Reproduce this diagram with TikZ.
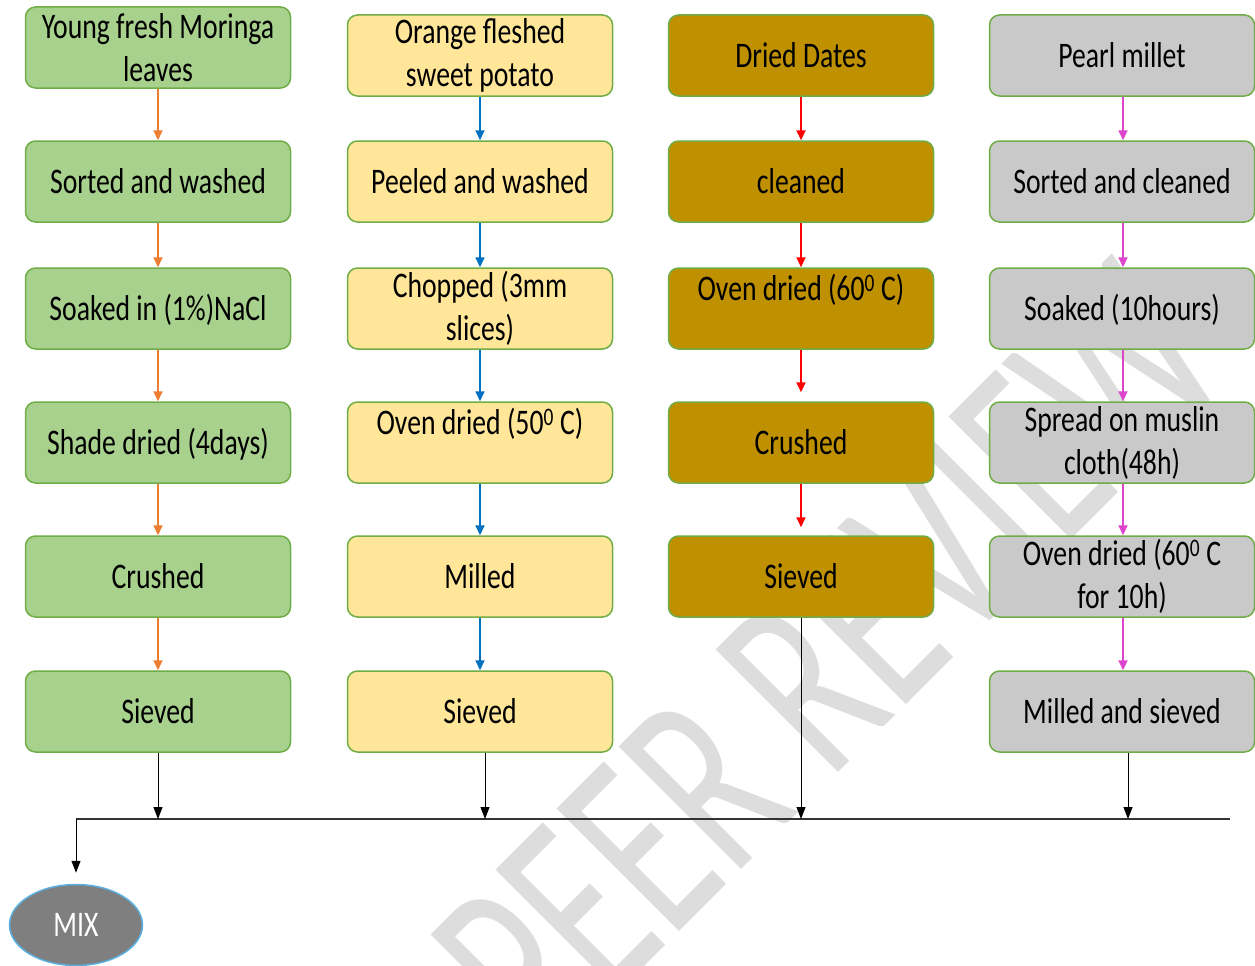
\documentclass[tikz,border=0pt]{standalone}
\usepackage{fontspec}
\setmainfont{Carlito}[FakeStretch=0.77]
\newfontfamily\wmfont{Carlito}[FakeStretch=0.66]
\usetikzlibrary{arrows.meta,shapes.geometric}
\definecolor{bord}{HTML}{70AD47}
\definecolor{gfill}{HTML}{A9D18E}
\definecolor{yfill}{HTML}{FFE699}
\definecolor{dfill}{HTML}{BF9000}
\definecolor{pfill}{HTML}{C9C9C9}
\definecolor{mixf}{HTML}{7F7F7F}
\definecolor{mixb}{HTML}{5BB0E0}
\definecolor{aorange}{HTML}{ED7D31}
\definecolor{ablue}{HTML}{0070C0}
\definecolor{ared}{HTML}{FF0000}
\definecolor{amag}{HTML}{DD44CC}
\definecolor{wm}{RGB}{221,221,221}
\newcommand\boxfont{\fontsize{36}{43}\selectfont}
\tikzset{
  box/.style={draw=bord, line width=1.5pt, rounded corners=10pt,
    minimum width=265pt, minimum height=81pt, inner sep=0pt,
    align=center, font=\boxfont},
  one/.style={text height=25pt, text depth=1.8pt},
  gbox/.style={box, fill=gfill},
  ybox/.style={box, fill=yfill},
  dbox/.style={box, fill=dfill},
  pbox/.style={box, fill=pfill},
  tipc/.style={-{Triangle[length=10pt,width=9pt]}},
  a1/.style={draw=aorange, line width=2pt, tipc},
  a2/.style={draw=ablue, line width=2pt, tipc},
  a3/.style={draw=ared, line width=2pt, tipc},
  a4/.style={draw=amag, line width=2pt, tipc},
  blk/.style={draw=black, line width=1pt, -{Triangle[length=12pt,width=9pt]}},
}
\begin{document}
\begin{tikzpicture}[x=1pt,y=-1pt]
\useasboundingbox (0,0) rectangle (1255,966);
\clip (0,0) rectangle (1255,966);
% watermark
\node[anchor=base west, rotate=45, text=wm, inner sep=0pt,
      font=\wmfont\fontsize{270}{270}\selectfont] (wmark) at (544,1067) {PEER REVIEW};

% bus
\coordinate (busL) at (76,819);
\coordinate (busR) at (1230,819);

% column 1
\node[gbox] (c1r1) at (158,47.5) {Young fresh Moringa\\leaves};
\node[gbox,one] (c1r2) at (158,181.5) {Sorted and washed};
\node[gbox,one] (c1r3) at (158,308.5) {Soaked in (1\%)NaCl};
\node[gbox,one] (c1r4) at (158,442.5) {Shade dried (4days)};
\node[gbox,one] (c1r5) at (158,576.5) {Crushed};
\node[gbox,one] (c1r6) at (158,711.5) {Sieved};

% column 2
\node[ybox] (c2r1) at (480,55.5) {Orange fleshed\\sweet potato};
\node[ybox,one] (c2r2) at (480,181.5) {Peeled and washed};
\node[ybox] (c2r3) at (480,308.5) {Chopped (3mm\\slices)};
\node[ybox] (c2r4) at (480,442.5) {Oven dried (50\textsuperscript{0} C)\\\mbox{}};
\node[ybox,one] (c2r5) at (480,576.5) {Milled};
\node[ybox,one] (c2r6) at (480,711.5) {Sieved};

% column 3
\node[dbox,one] (c3r1) at (801,55.5) {Dried Dates};
\node[dbox,one] (c3r2) at (801,181.5) {cleaned};
\node[dbox] (c3r3) at (801,308.5) {Oven dried (60\textsuperscript{0} C)\\\mbox{}};
\node[dbox,one] (c3r4) at (801,442.5) {Crushed};
\node[dbox,one] (c3r5) at (801,576.5) {Sieved};

% column 4
\node[pbox,one] (c4r1) at (1122,55.5) {Pearl millet};
\node[pbox,one] (c4r2) at (1122,181.5) {Sorted and cleaned};
\node[pbox,one] (c4r3) at (1122,308.5) {Soaked (10hours)};
\node[pbox] (c4r4) at (1122,442.5) {Spread on muslin\\cloth(48h)};
\node[pbox] (c4r5) at (1122,576.5) {Oven dried (60\textsuperscript{0} C\\for 10h)};
\node[pbox,one] (c4r6) at (1122,711.5) {Milled and sieved};

% MIX
\node[ellipse, draw=mixb, fill=mixf, line width=1.5pt, minimum width=133pt,
      minimum height=81pt, inner sep=0pt, text=white, font=\boxfont] (mix) at (76,925) {MIX};

% colored arrows
\draw[a1] (c1r1) -- (c1r2);
\draw[a1] (c1r2) -- (c1r3);
\draw[a1] (c1r3) -- (c1r4);
\draw[a1] (c1r4) -- (c1r5);
\draw[a1] (c1r5) -- (c1r6);

\draw[a2] (c2r1) -- (c2r2);
\draw[a2] (c2r2) -- (c2r3);
\draw[a2] (c2r3) -- (c2r4);
\draw[a2] (c2r4) -- (c2r5);
\draw[a2] (c2r5) -- (c2r6);

\draw[a3] (c3r1) -- (c3r2);
\draw[a3] (c3r2) -- (c3r3);
\draw[a3, shorten >=9pt] (c3r3) -- (c3r4);
\draw[a3, shorten >=8pt] (c3r4) -- (c3r5);

\draw[a4] ([xshift=1pt]c4r1.south) -- ([xshift=1pt]c4r2.north);
\draw[a4] ([xshift=1pt]c4r2.south) -- ([xshift=1pt]c4r3.north);
\draw[a4] ([xshift=1pt]c4r3.south) -- ([xshift=1pt]c4r4.north);
\draw[a4] ([xshift=1pt]c4r4.south) -- ([xshift=1pt]c4r5.north);
\draw[a4] ([xshift=1pt]c4r5.south) -- ([xshift=1pt]c4r6.north);

% bus and black arrows
\draw[black!80, line width=1.6pt] (busL) -- (busR);
\draw[blk] (c1r6.south) -- (c1r6.south |- busL);
\draw[blk] ([xshift=5pt]c2r6.south) -- ([xshift=5pt]c2r6.south |- busL);
\draw[blk] (c3r5.south) -- (c3r5.south |- busL);
\draw[blk] ([xshift=6pt]c4r6.south) -- ([xshift=6pt]c4r6.south |- busL);
\draw[blk, shorten >=11pt] (busL) -- (mix);
\end{tikzpicture}
\end{document}
